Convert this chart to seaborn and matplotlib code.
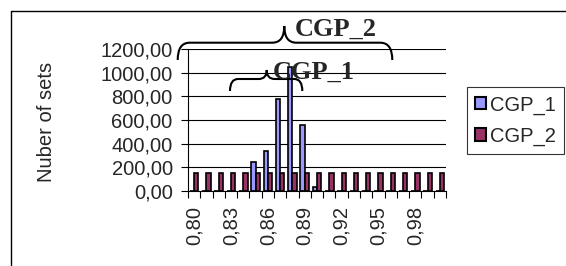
import numpy as np
import pandas as pd
import matplotlib
matplotlib.use("Agg")
import matplotlib.pyplot as plt
import seaborn as sns
from matplotlib.path import Path
from matplotlib.patches import PathPatch
from matplotlib.lines import Line2D
from matplotlib.transforms import Affine2D

# ---- data ----
categories = ["0,80", "0,81", "0,82", "0,83", "0,84", "0,85", "0,86", "0,87",
              "0,88", "0,89", "0,90", "0,91", "0,92", "0,93", "0,94", "0,95",
              "0,96", "0,97", "0,98", "0,99", "1,00"]
cgp1 = [0, 0, 0, 0, 0, 248, 340, 775, 1051, 558, 32, 0, 0, 0, 0, 0, 0, 0, 0, 0, 0]
cgp2 = [148, 150, 150, 148, 150, 150, 150, 148, 148, 150, 150, 148, 148, 148,
        148, 148, 152, 152, 150, 150, 150]
series_names = ["CGP_1", "CGP_2"]
colors = ["#9999FF", "#993366"]
tick_labels = categories[::3]
y_ticks = [0, 200, 400, 600, 800, 1000, 1200]

sns.set_theme(style="white")
plt.rcParams['font.family'] = ['Liberation Sans', 'DejaVu Sans']

FS = 14.5
W, H = 566, 266
fig = plt.figure(figsize=(W / 100, H / 100), dpi=100)
ax = fig.add_axes([188 / W, 1 - 191 / H, (446 - 188) / W, (191 - 49) / H])

df = pd.DataFrame({
    "cat": categories * 2,
    "val": cgp1 + cgp2,
    "series": [series_names[0]] * len(categories) + [series_names[1]] * len(categories),
})
sns.barplot(data=df, x="cat", y="val", hue="series", order=categories,
            hue_order=series_names, palette=colors, width=0.7, gap=0,
            edgecolor="black", linewidth=1.2, saturation=1, ax=ax, legend=True)

ax.set_xlim(-0.5, len(categories) - 0.5)
ax.set_ylim(0, 1200)
ax.set_xticks(range(0, len(categories), 3))
ax.set_xticklabels(tick_labels, rotation=90, fontsize=FS)
ax.set_xticks(np.arange(-0.5, len(categories), 1), minor=True)
ax.tick_params(axis="x", which="major", length=0, pad=11)
ax.tick_params(axis="x", which="minor", length=5, width=0.8, color="black", direction="out", bottom=True)
ax.set_yticks(y_ticks)
ax.set_yticklabels([f"{v:.2f}".replace(".", ",") for v in y_ticks], fontsize=FS)
ax.tick_params(axis="y", length=5, width=0.8, color="black", direction="out", left=True, pad=6)
ax.yaxis.grid(True, color="black", lw=0.8)
ax.set_axisbelow(True)
for s in ["top", "right"]:
    ax.spines[s].set_visible(False)
for s in ["left", "bottom"]:
    ax.spines[s].set_color("black")
    ax.spines[s].set_linewidth(0.8)
ax.set_xlabel("")
ax.set_ylabel("Nuber of sets", fontsize=FS)
ax.yaxis.set_label_coords((56 - 188) / 258, (191 - 122) / 142)

handles, labels = ax.get_legend_handles_labels()
leg = ax.legend(handles, labels, loc="upper left",
                bbox_to_anchor=(466.7 / W, 1 - 87.3 / H), bbox_transform=fig.transFigure,
                frameon=True, fancybox=False, edgecolor="black", fontsize=FS,
                handlelength=0.55, handleheight=0.55, handletextpad=0.2,
                labelspacing=0.6, borderaxespad=0, borderpad=0.4)
leg.get_frame().set_linewidth(0.8)
for h in leg.legend_handles:
    h.set_edgecolor("black")
    h.set_linewidth(1.5)

# pixel transform (origin top-left)
pix = Affine2D().scale(1 / W, -1 / H).translate(0, 1) + fig.transFigure


def brace(x0, x1, xm, ytop, yend, ycusp, r=10):
    verts = [(x0, yend), (x0, ytop), (x0 + r, ytop),
             (xm - r, ytop), (xm, ytop), (xm, ycusp),
             (xm, ytop), (xm + r, ytop),
             (x1 - r, ytop), (x1, ytop), (x1, yend)]
    codes = [Path.MOVETO, Path.CURVE3, Path.CURVE3,
             Path.LINETO, Path.CURVE3, Path.CURVE3,
             Path.CURVE3, Path.CURVE3,
             Path.LINETO, Path.CURVE3, Path.CURVE3]
    p = PathPatch(Path(verts, codes), fill=False, lw=1.5, edgecolor="black",
                  transform=pix, clip_on=False)
    fig.add_artist(p)


brace(177.7, 392.3, 284.3, 42.7, 60, 26, r=12)
brace(230, 302.3, 266.7, 79, 91, 70, r=8)

fig.text(295 / W, 1 - 36 / H, "CGP_2", va="baseline", ha="left",
         family=["Liberation Serif", "DejaVu Serif"], weight="bold", fontsize=19)
fig.text(272.7 / W, 1 - 78.3 / H, "CGP_1", va="baseline", ha="left",
         family=["Liberation Serif", "DejaVu Serif"], weight="bold", fontsize=19)

# outer border
fig.add_artist(Line2D([10.8, W], [11, 11], color="black", lw=1, transform=pix))
fig.add_artist(Line2D([10.8, 10.8], [11, H], color="black", lw=1, transform=pix))

fig.savefig("out.png", dpi=100)
